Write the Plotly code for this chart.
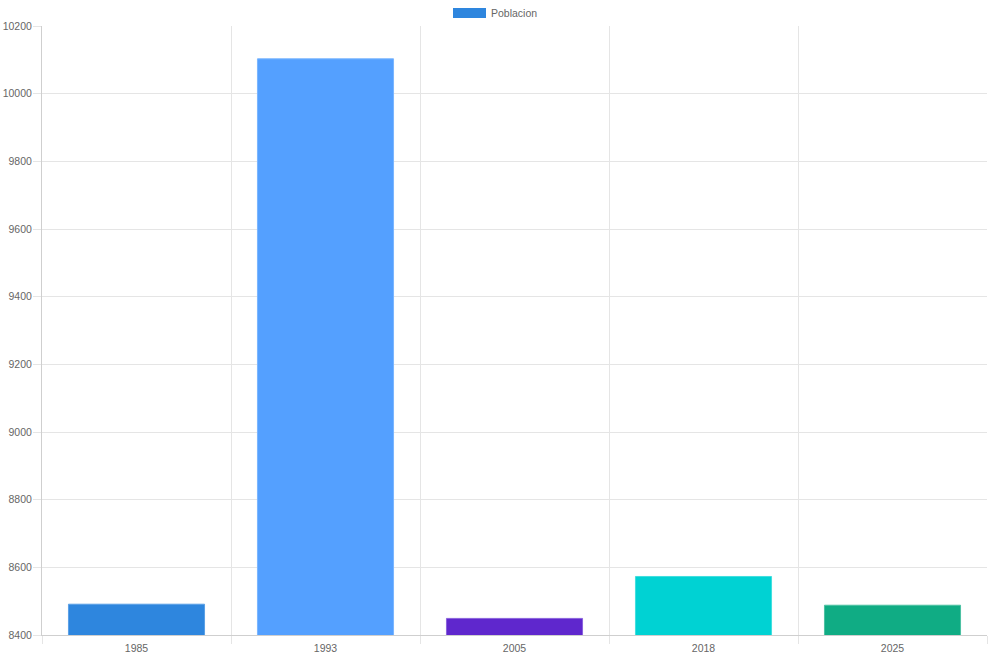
import plotly.graph_objects as go

years = ["1985", "1993", "2005", "2018", "2025"]
poblacion = [8491, 10103, 8449, 8573, 8488]
colors = ["#2E86DE", "#54A0FF", "#5F27CD", "#00D2D3", "#10AC84"]
border_colors = ["#5aa0e6", "#7ab5ff", "#8a62dc", "#40dede", "#4cc1a3"]
series_name = "Poblacion"

y_min, y_max, y_step = 8400, 10200, 200

fig = go.Figure()
fig.add_trace(go.Bar(
    x=years, y=poblacion, name=series_name,
    marker=dict(color=colors, line=dict(color=border_colors, width=1)),
    showlegend=False,
))

font_family = "Liberation Sans, Arial, Helvetica, sans-serif"
grid_c = "#e5e5e5"
axis_c = "#cfcfcf"
txt_c = "#666666"
fs = 10.5

def py(p):
    return (635 - p) / 609

def px(p):
    return (p - 42) / 945

fig.update_layout(
    width=990, height=660,
    margin=dict(l=42, r=3, t=26, b=25, autoexpand=False),
    paper_bgcolor="white", plot_bgcolor="white",
    font=dict(family=font_family, size=fs, color=txt_c),
    bargap=0.28,
    showlegend=False,
    xaxis=dict(
        type="category", range=[-0.5, 4.5], automargin=False,
        tickson="boundaries", ticks="outside", ticklen=8, tickcolor=grid_c,
        showgrid=True, gridcolor=grid_c, gridwidth=1,
        showline=True, linecolor=axis_c, linewidth=1,
        tickfont=dict(size=fs, color=txt_c),
        ticklabelstandoff=3,
    ),
    yaxis=dict(
        range=[y_min, y_max], dtick=y_step, tick0=y_min, tickformat="d",
        automargin=False,
        ticks="outside", ticklen=8, tickcolor=grid_c,
        showgrid=True, gridcolor=grid_c, gridwidth=1,
        showline=True, linecolor=axis_c, linewidth=1,
        zeroline=False,
        tickfont=dict(size=fs, color=txt_c),
        ticklabelstandoff=-1,
    ),
    shapes=[dict(
        type="rect", xref="paper", yref="paper",
        x0=px(453), x1=px(486), y0=py(18), y1=py(8),
        fillcolor=colors[0], line=dict(width=0),
    )],
    annotations=[dict(
        text=series_name, xref="paper", yref="paper",
        x=px(491), y=py(13), xshift=-2,
        xanchor="left", yanchor="middle", showarrow=False,
        font=dict(size=fs, color=txt_c, family=font_family),
    )],
)
fig.write_html("out.html")
